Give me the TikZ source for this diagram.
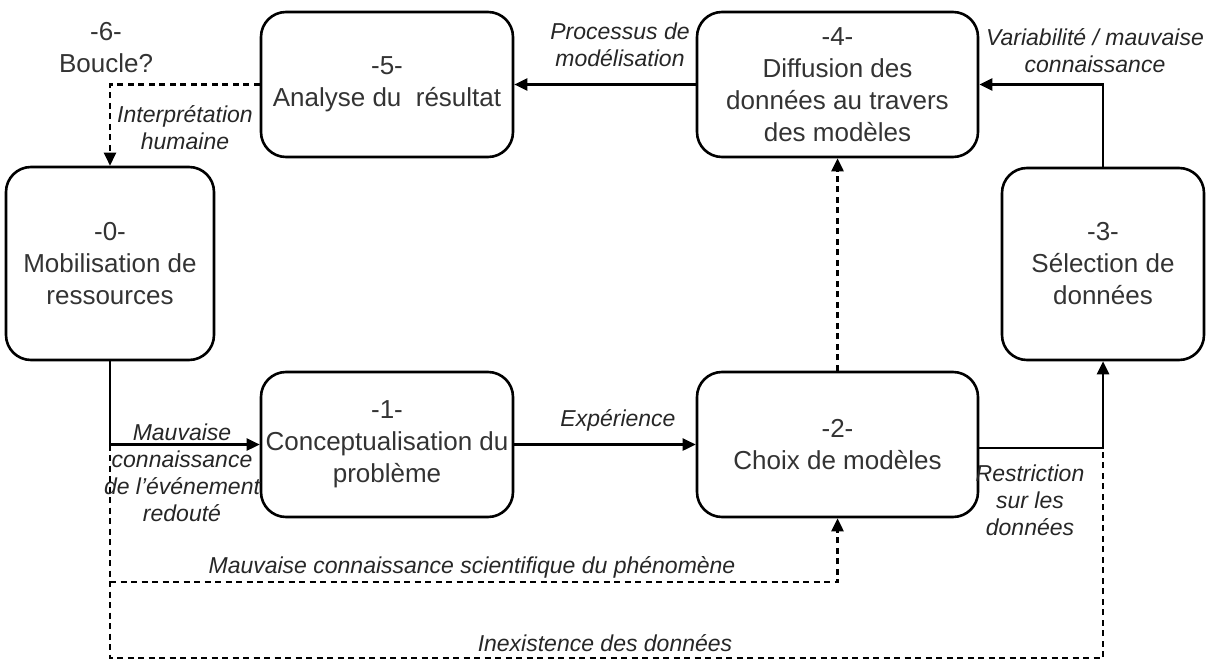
\documentclass[tikz,border=0pt]{standalone}
\usepackage{fontspec}
\setmainfont{Liberation Sans}
\usetikzlibrary{arrows.meta}

\begin{document}
\begin{tikzpicture}[x=1pt,y=-1pt,
  etape/.style={draw,line width=2.6pt,rounded corners=25pt,align=center,inner sep=2pt,
    font=\fontsize{26}{32}\selectfont,text=black!80},
  lbl/.style={align=center,font=\fontsize{23}{27}\selectfont\itshape,text=black!85},
  fleche/.style={line width=2.6pt,->,>={Triangle[length=13pt,width=12pt]}},
  pointille/.style={fleche,dash pattern=on 6pt off 4.5pt}]
\useasboundingbox (0,0) rectangle (1213,661);

\node[etape,minimum width=208pt,minimum height=193pt] (b0) at (110,263.5) {-0-\\Mobilisation de\\ressources};
\node[etape,minimum width=252pt,minimum height=145pt] (b1) at (387,444.5) {-1-\\Conceptualisation du\\problème};
\node[etape,minimum width=281pt,minimum height=145pt] (b2) at (837.5,444.5) {-2-\\Choix de modèles};
\node[etape,minimum width=202pt,minimum height=192pt] (b3) at (1103,264) {-3-\\Sélection de\\données};
\node[etape,minimum width=281pt,minimum height=145pt] (b4) at (837.5,84.5) {-4-\\Diffusion des\\données au travers\\des modèles};
\node[etape,minimum width=252pt,minimum height=145pt] (b5) at (387,84.5) {-5-\\Analyse du~ résultat};
\node[etape,draw=none] (b6) at (106,47.5) {-6-\\Boucle?};

% points de jonction
\coordinate (jA) at (b0.south |- b1.west);
\coordinate (jB) at (b0.south |- 0,582);
\coordinate (jC) at (b0.south |- 0,658);
\coordinate (jD) at (b3.south |- 0,448);

\draw[fleche] (b0.south) -- (jA) -- (b1.west);
\draw[fleche] (b1) -- (b2);
\draw[fleche] (b2.east |- jD) -- (jD) -- (b3.south);
\draw[fleche] (b3.north) |- (b4.east);
\draw[fleche] (b4) -- (b5);

\draw[pointille] (b2) -- (b4);
\draw[pointille] (b5.west) -| (b0.north);
\draw[pointille] (jB) -| (b2.south);
\draw[pointille,-] (jA) -- (jC) -| (jD);

\node[lbl] (l1) at (182,472.5) {Mauvaise\\connaissance\\de l’événement\\redouté};
\node[lbl] (l2) at (618,420) {Expérience};
\node[lbl] (l3) at (620,45) {Processus de\\modélisation};
\node[lbl] (l4) at (1095,51) {Variabilité / mauvaise\\connaissance};
\node[lbl] (l5) at (1030,500) {Restriction\\sur les\\données};
\node[lbl] (l6) at (185,128) {Interprétation\\humaine};
\node[lbl] (l7) at (472,567) {Mauvaise connaissance scientifique du phénomène};
\node[lbl] (l8) at (605,643) {Inexistence des données};
\end{tikzpicture}
\end{document}
